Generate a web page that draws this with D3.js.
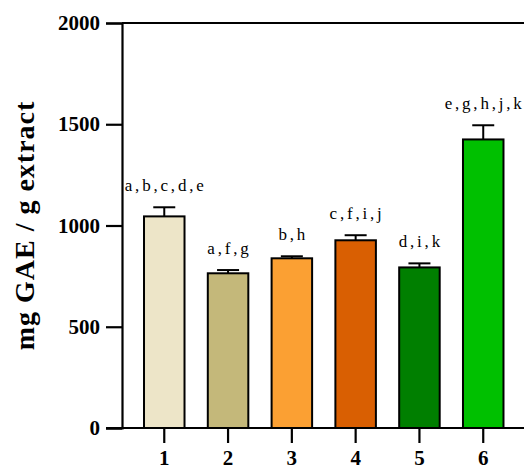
<!DOCTYPE html>
<html>
<head>
<meta charset="utf-8">
<script src="https://cdn.jsdelivr.net/npm/d3@7"></script>
<style>
  body { margin: 0; background: #fff; }
  svg { display: block; }
</style>
</head>
<body>
<svg id="chart" width="524" height="470"></svg>
<script>
const categories = ['1', '2', '3', '4', '5', '6'];
const means = [1045, 764, 838, 927, 793, 1425];
const errors = [45, 16, 10, 25, 20, 70];
const letters = ['a,b,c,d,e', 'a,f,g', 'b,h', 'c,f,i,j', 'd,i,k', 'e,g,h,j,k'];
const colors = ['#ede5c8', '#c4b87a', '#fba033', '#d95f02', '#007f00', '#00c000'];
const yTicks = [0, 500, 1000, 1500, 2000];

const svg = d3.select('#chart');
const width = 524, height = 470;
const margin = { left: 122, top: 23, bottom: 42 };

const x = d3.scaleBand()
    .domain(categories)
    .range([margin.left, 525.5])
    .paddingInner(0.365)
    .paddingOuter(0.345);

const y = d3.scaleLinear()
    .domain([0, 2000])
    .range([height - margin.bottom, margin.top]);

const serif = '"Liberation Serif", "DejaVu Serif", serif';

// bars
const g = svg.append('g');
g.selectAll('rect')
  .data(means)
  .enter()
  .append('rect')
  .attr('x', (d, i) => x(categories[i]))
  .attr('y', d => y(d))
  .attr('width', x.bandwidth())
  .attr('height', d => y(0) - y(d))
  .attr('fill', (d, i) => colors[i])
  .attr('stroke', '#000')
  .attr('stroke-width', 2);

// error bars (upper only) + significance letters
const cap = 11;
const ls = 2.8;
means.forEach((m, i) => {
    const cx = x(categories[i]) + x.bandwidth() / 2;
    const top = y(m + errors[i]);
    g.append('line')
      .attr('x1', cx).attr('x2', cx)
      .attr('y1', y(m)).attr('y2', top)
      .attr('stroke', '#000').attr('stroke-width', 2);
    g.append('line')
      .attr('x1', cx - cap).attr('x2', cx + cap)
      .attr('y1', top).attr('y2', top)
      .attr('stroke', '#000').attr('stroke-width', 2);
    g.append('text')
      .attr('x', cx + ls / 2)
      .attr('y', top - 16)
      .attr('text-anchor', 'middle')
      .style('font-family', serif)
      .style('font-size', '17px')
      .style('letter-spacing', ls + 'px')
      .text(letters[i]);
});

// y axis
const yAxis = svg.append('g')
    .attr('transform', `translate(${margin.left},0)`)
    .call(d3.axisLeft(y).tickValues(yTicks).tickSize(16).tickPadding(6).tickFormat(d3.format('d')));
yAxis.select('.domain').attr('stroke-width', 2.2);
yAxis.selectAll('.tick line').attr('stroke-width', 2.2);
yAxis.selectAll('.tick text')
    .style('font-family', serif)
    .style('font-weight', 'bold')
    .style('font-size', '21px')
    .attr('fill', '#000');

// x axis
const xAxis = svg.append('g')
    .attr('transform', `translate(0,${y(0)})`)
    .call(d3.axisBottom(x).tickSize(15).tickPadding(7));
xAxis.select('.domain').remove();
xAxis.selectAll('.tick line').attr('stroke-width', 2.2);
xAxis.selectAll('.tick text')
    .style('font-family', serif)
    .style('font-weight', 'bold')
    .style('font-size', '21px')
    .attr('fill', '#000');

// frame lines: baseline and top
svg.append('line')
  .attr('x1', margin.left - 16).attr('x2', width)
  .attr('y1', y(0)).attr('y2', y(0))
  .attr('stroke', '#000').attr('stroke-width', 2.2);
svg.append('line')
  .attr('x1', margin.left).attr('x2', width)
  .attr('y1', y(2000)).attr('y2', y(2000))
  .attr('stroke', '#000').attr('stroke-width', 2.2);

// y title
svg.append('text')
  .attr('transform', `translate(34,${(y(0) + y(2000)) / 2}) rotate(-90)`)
  .attr('text-anchor', 'middle')
  .style('font-family', serif)
  .style('font-weight', 'bold')
  .style('font-size', '28px')
  .style('letter-spacing', '1px')
  .text('mg GAE / g extract');
</script>
</body>
</html>
